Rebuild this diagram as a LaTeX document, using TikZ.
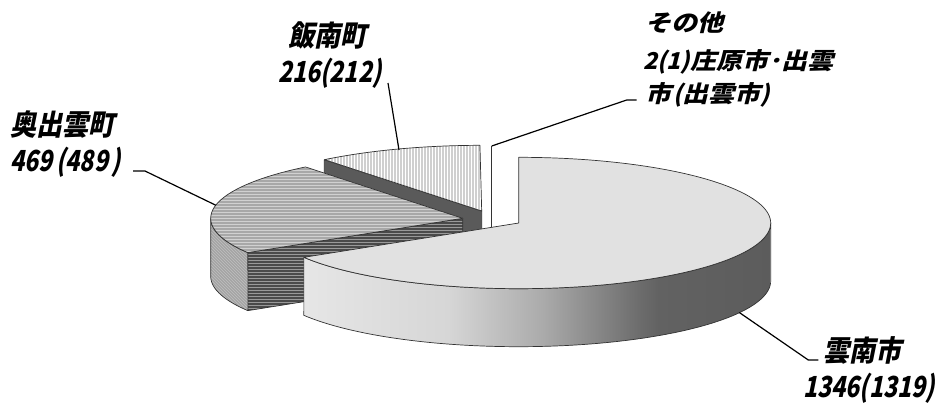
\documentclass[tikz,border=0pt]{standalone}
\usepackage{fontspec}
\newfontfamily\jp[FakeSlant=0.2, FakeStretch=0.9]{Noto Sans CJK JP}
\newfontfamily\jpn[FakeSlant=0.2, FakeStretch=0.8]{Noto Sans CJK JP}
\usetikzlibrary{patterns}
\definecolor{c0}{HTML}{E6E6E6}
\definecolor{c1}{HTML}{D6D6D6}
\definecolor{c2}{HTML}{ABABAB}
\definecolor{c3}{HTML}{6C6C6C}
\definecolor{c4}{HTML}{626262}
\definecolor{c5}{HTML}{5C5C5C}
\definecolor{unnantop}{HTML}{E1E1E1}
\definecolor{okutop}{HTML}{A8A8A8}
\definecolor{okuside}{HTML}{A4A4A4}
\definecolor{okucut}{HTML}{4A4A4A}
\definecolor{iintop}{HTML}{CFCFCF}
\definecolor{iincut}{HTML}{5A5A5A}
\definecolor{rim}{HTML}{333333}
\pgfdeclarehorizontalshading{unnanside}{100bp}{color(0bp)=(c0); color(25bp)=(c0); color(40.5bp)=(c1); color(50.5bp)=(c2); color(61bp)=(c3); color(63bp)=(c4); color(75bp)=(c5); color(100bp)=(c5)}
\tikzset{
  edge/.style={draw=rim, line width=0.7pt, line join=round},
  lbl/.style={font=\jp\bfseries\fontsize{29}{32}\selectfont, inner sep=0pt, anchor=base west},
  leader/.style={draw=black, line width=1.2pt, line join=round},
}
\newcommand{\sq}[1]{\scalebox{1}[0.8]{#1}}
\begin{document}
\begin{tikzpicture}[x=1pt,y=-1pt]
\useasboundingbox[fill=white] (0,0) rectangle (944,405);
% ---------- Iinan (back) ----------
\coordinate (I) at (481.7,211);
\path[fill=iincut, edge] (I) -- (324.3,159.7) -- (324.3,217.7) -- (481.7,269) -- cycle;
\path[fill=iintop, postaction={pattern=vertical lines, pattern color=white}]
  (I) -- plot[domain=231.4:269.6, samples=40] ({481.7+252*cos(\x)},{211+65.7*sin(\x)}) -- cycle;
\draw[edge] (I) -- plot[domain=231.4:269.6, samples=40] ({481.7+252*cos(\x)},{211+65.7*sin(\x)}) -- cycle;
% ---------- Other (sliver) ----------
\coordinate (oT) at (491.7,146);
\coordinate (oB) at (491.7,270);
\draw[edge, line width=1.1pt] (oT) -- (oB);
% ---------- Okuizumo ----------
\coordinate (O) at (462.7,218.3);
\path[fill=okucut, postaction={pattern=horizontal lines, pattern color=black!40}]
  (O) -- (247.8,252.6) -- (247.8,310.6) -- (462.7,276.3) -- cycle;
\draw[edge] (O) -- (247.8,252.6) -- (247.8,310.6) -- (462.7,276.3) -- cycle;
\path[fill=okuside, postaction={pattern=north west lines, pattern color=white!75!black}]
  plot[domain=148.5:180, samples=30] ({462.7+252*cos(\x)},{218.3+65.7*sin(\x)})
  -- plot[domain=180:148.5, samples=30] ({462.7+252*cos(\x)},{276.3+65.7*sin(\x)}) -- cycle;
\draw[edge]
  plot[domain=148.5:180, samples=30] ({462.7+252*cos(\x)},{218.3+65.7*sin(\x)})
  -- plot[domain=180:148.5, samples=30] ({462.7+252*cos(\x)},{276.3+65.7*sin(\x)}) -- cycle;
\path[fill=okutop, postaction={pattern=horizontal lines, pattern color=white!82!black}]
  (O) -- plot[domain=148.5:231.4, samples=60] ({462.7+252*cos(\x)},{218.3+65.7*sin(\x)}) -- cycle;
\draw[edge] (O) -- plot[domain=148.5:231.4, samples=60] ({462.7+252*cos(\x)},{218.3+65.7*sin(\x)}) -- cycle;
% ---------- Unnan (front, exploded) ----------
\coordinate (U) at (518.7,223);
\path[shading=unnanside]
  plot[domain=0:148.5, samples=90] ({518.7+252*cos(\x)},{223+65.7*sin(\x)})
  -- plot[domain=148.5:0, samples=90] ({518.7+252*cos(\x)},{281+65.7*sin(\x)}) -- cycle;
\draw[edge]
  plot[domain=0:148.5, samples=90] ({518.7+252*cos(\x)},{223+65.7*sin(\x)})
  -- plot[domain=148.5:0, samples=90] ({518.7+252*cos(\x)},{281+65.7*sin(\x)}) -- cycle;
\path[fill=unnantop] (U) -- plot[domain=-90:148.5, samples=120] ({518.7+252*cos(\x)},{223+65.7*sin(\x)}) -- cycle;
\draw[edge] (U) -- plot[domain=-90:148.5, samples=120] ({518.7+252*cos(\x)},{223+65.7*sin(\x)}) -- cycle;
% ---------- labels ----------
\node[lbl] (lIinanA) at (288,46) {飯南町};
\node[lbl] (lIinanB) at (278,82) {\jpn 216(212)};
\node[lbl] (lOkuA) at (10,135) {奥出雲町};
\node[lbl] (lOkuB) at (10,171) {\jpn 469\hspace{4pt}(489\hspace{3pt})};
\node[lbl] (lOthA) at (645,31) {\sq{その他}};
\node[lbl] (lOthB) at (643,69) {\sq{{\jpn 2(1)}庄原市･出雲}};
\node[lbl] (lOthC) at (645,102) {\sq{市{\jpn\hspace{2pt}(}出雲市{\jpn)}}};
\node[lbl] (lUnA) at (823,361) {雲南市};
\node[lbl] (lUnB) at (803,397) {\jpn 1346(1319)};
% ---------- leader lines ----------
\coordinate (iRim) at (399,150);
\coordinate (iEnd) at (388,83);
\draw[leader] (iRim) -- (iEnd);
\coordinate (kRim) at ({462.7+252*cos(191.5)},{218.3+65.7*sin(191.5)});
\coordinate (kBend) at (145,171);
\coordinate (kEnd) at (133,171);
\draw[leader] (kRim) -- (kBend) -- (kEnd);
\coordinate (oBend) at (626.7,100);
\coordinate (oEnd) at (636.7,100);
\draw[leader] (oT) -- (oBend) -- (oEnd);
\coordinate (uRim) at (739.3,312.5);
\coordinate (uBend) at (808.3,360);
\coordinate (uEnd) at (818.3,360);
\draw[leader] (uRim) -- (uBend) -- (uEnd);
\end{tikzpicture}
\end{document}
